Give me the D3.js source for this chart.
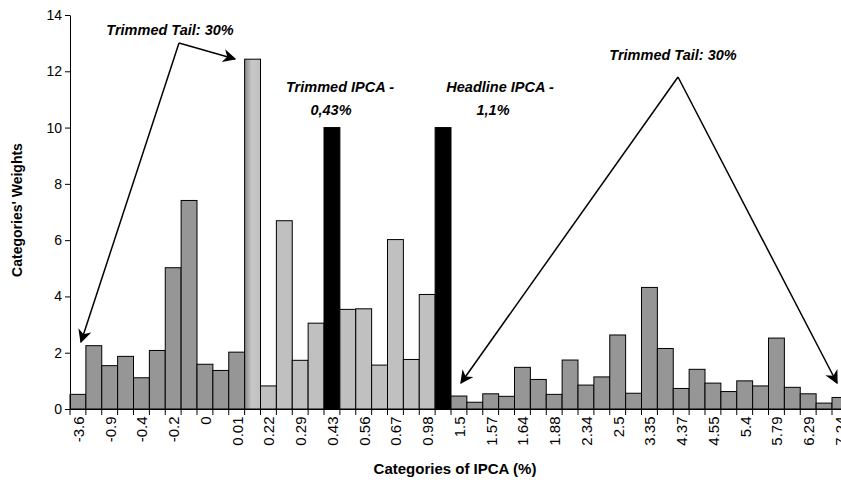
<!DOCTYPE html>
<html><head><meta charset="utf-8">
<script src="https://cdn.jsdelivr.net/npm/d3@7"></script>
<style>body{margin:0;background:#fff}svg{font-family:Arial,"Liberation Sans",sans-serif}</style>
</head><body><svg id="c" width="841" height="482"></svg>
<script>
// weights per IPCA category, left to right
const weights = [0.52,2.25,1.54,1.87,1.11,2.08,5.02,7.41,1.59,1.37,2.02,12.43,0.82,6.69,1.73,3.05,10,3.54,3.56,1.56,6.02,1.76,4.07,10,
  0.46,0.24,0.54,0.45,1.48,1.05,0.52,1.74,0.85,1.14,2.63,0.56,4.32,2.15,0.73,1.41,0.92,0.62,1.0,0.82,2.52,0.77,0.54,0.21,0.41]
// 'd' trimmed tail, 'g' boundary, 'l' kept, 'b' marker
const kinds = 'dddddddddddgllllbllllllb' + 'd'.repeat(25)
const tickLabels = ['-3.6','-0.9','-0.4','-0.2','0','0.01','0.22','0.29','0.43','0.56','0.67','0.98','1.5','1.57','1.64','1.88','2.34','2.5','3.35','4.37','4.55','5.4','5.79','6.29','7.24']
const yTicks = [0,2,4,6,8,10,12,14]

const svg = d3.select('#c')
const defs = svg.append('defs')
const grad = defs.append('linearGradient').attr('id', 'gr')
grad.append('stop').attr('offset', '0%').attr('stop-color', '#888')
grad.append('stop').attr('offset', '45%').attr('stop-color', '#c8c8c8')
grad.append('stop').attr('offset', '100%').attr('stop-color', '#c0c0c0')
const mk = defs.append('marker').attr('id', 'ar').attr('viewBox', '0 0 10 10').attr('refX', 9).attr('refY', 5)
  .attr('markerWidth', 9).attr('markerHeight', 9).attr('orient', 'auto-start-reverse')
mk.append('path').attr('d', 'M0,0L10,5L0,10L3,5Z').attr('fill', '#000')

const idx = d3.range(weights.length)
const x = d3.scaleBand().domain(idx).range([70, 70 + 15.875 * weights.length]).padding(0)
const y = d3.scaleLinear().domain([0, 14]).range([409, 15])
const fill = {d: '#969696', g: 'url(#gr)', l: '#c0c0c0', b: '#000'}

svg.selectAll('rect.bar').data(weights).enter().append('rect')
  .attr('x', (d, i) => x(i)).attr('width', x.bandwidth())
  .attr('y', d => y(d)).attr('height', d => y(0) - y(d))
  .attr('fill', (d, i) => fill[kinds[i]]).attr('stroke', '#000').attr('stroke-width', 1)

// axes
const ya = svg.append('g').attr('transform', 'translate(70,0)')
  .call(d3.axisLeft(y).tickValues(yTicks).tickSize(5).tickSizeOuter(0))
ya.selectAll('text').attr('font-size', 14).attr('fill', '#000').attr('font-family', 'Arial')
const xa = svg.append('g').attr('transform', 'translate(0,409)')
  .call(d3.axisBottom(x).tickSize(6).tickSizeOuter(0)
    .tickFormat(i => i % 2 === 0 ? tickLabels[i / 2] : ''))
xa.selectAll('.tick line').attr('transform', `translate(${-x.bandwidth() / 2},0)`)
xa.selectAll('text').attr('font-size', 15).attr('fill', '#000').attr('font-family', 'Arial')
  .attr('transform', 'rotate(-90)').attr('text-anchor', 'end').attr('dx', '-0.5em').attr('dy', '-0.2em')
svg.selectAll('.domain').attr('stroke', '#000')

svg.append('text').attr('transform', 'translate(22,210) rotate(-90)').attr('text-anchor', 'middle')
  .attr('font-weight', 'bold').attr('font-size', 14).text("Categories' Weights")
svg.append('text').attr('x', 455).attr('y', 474).attr('text-anchor', 'middle')
  .attr('font-weight', 'bold').attr('font-size', 15).text('Categories of IPCA (%)')

// annotations
const ann = [[170, 35, 'Trimmed Tail: 30%'], [673, 60, 'Trimmed Tail: 30%'], [340, 92, 'Trimmed IPCA -'],
  [331, 115, '0,43%'], [500, 92, 'Headline IPCA -'], [493, 115, '1,1%']]
svg.selectAll('text.ann').data(ann).enter().append('text').attr('x', d => d[0]).attr('y', d => d[1])
  .attr('text-anchor', 'middle').attr('font-weight', 'bold').attr('font-style', 'italic').attr('font-size', 14.5)
  .text(d => d[2])
const arrows = [[179, 43, 81, 342], [179, 43, 235, 59], [678, 77, 461, 383], [678, 77, 837, 383]]
svg.selectAll('line.arr').data(arrows).enter().append('line')
  .attr('x1', d => d[0]).attr('y1', d => d[1]).attr('x2', d => d[2]).attr('y2', d => d[3])
  .attr('stroke', '#000').attr('stroke-width', 1.5).attr('marker-end', 'url(#ar)')
</script></body></html>
